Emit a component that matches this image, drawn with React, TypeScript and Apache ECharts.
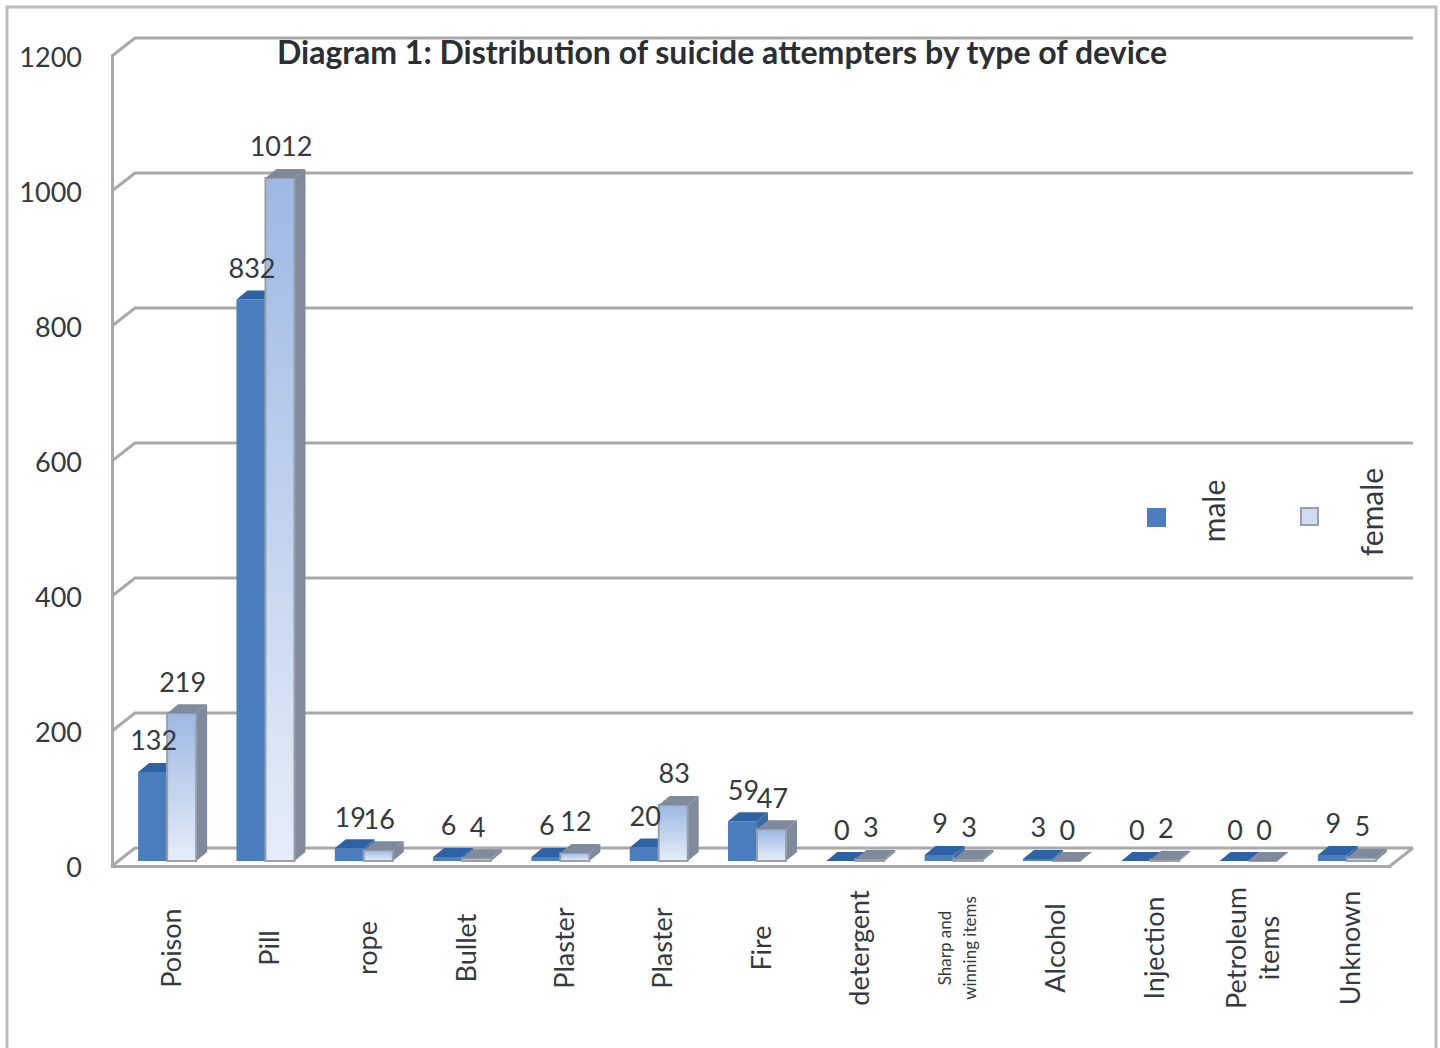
import React, { useEffect, useRef } from "react";
import * as echarts from "echarts";

const titleText = "Diagram 1: Distribution of suicide attempters by type of device";
const categories = ["Poison", "Pill", "rope", "Bullet", "Plaster", "Plaster", "Fire", "detergent", "Sharp and\nwinning items", "Alcohol", "Injection", "Petroleum\nitems", "Unknown"];
const male = [132, 832, 19, 6, 6, 20, 59, 0, 9, 3, 0, 0, 9];
const female = [219, 1012, 16, 4, 12, 83, 47, 3, 3, 0, 2, 0, 5];
const yTicks = [0, 200, 400, 600, 800, 1000, 1200];

const FONT = "Lato";
const TEXT = "#333a40";
const LINE = "#a9a9a9";
const WALL = { dx: 23, dy: -18 };
const BAR_PLANE = { dx: 6, dy: -5 };
const DEPTH = { dx: 11, dy: -9 };
const BAR_W = 29;

function poly(points: number[][], fill: any, stroke?: string, lineWidth = 0, z2 = 0) {
  return { type: "polygon", z2, shape: { points }, style: { fill, stroke: stroke ?? "none", lineWidth } };
}

function barShapes(api: any, side: "male" | "female") {
  const i = api.value(0);
  const v = api.value(1);
  const top = api.coord([i, v]);
  const bot = api.coord([i, 0]);
  const cx = top[0] + BAR_PLANE.dx;
  const y1 = top[1] + BAR_PLANE.dy;
  const y0 = bot[1] + BAR_PLANE.dy;
  const x0 = side === "male" ? cx - BAR_W : cx;
  const x1 = x0 + BAR_W;
  const d = DEPTH;
  const topFace = [[x0, y1], [x1, y1], [x1 + d.dx, y1 + d.dy], [x0 + d.dx, y1 + d.dy]];
  const sideFace = [[x1, y1], [x1 + d.dx, y1 + d.dy], [x1 + d.dx, y0 + d.dy], [x1, y0]];
  const front = [[x0, y1], [x1, y1], [x1, y0], [x0, y0]];
  if (side === "male") {
    return {
      type: "group",
      children: [
        poly(sideFace, "#3a6aa8"),
        poly(front, "#4a7ebf"),
        poly(topFace, "#2f62a5"),
      ],
    };
  }
  const grad = new echarts.graphic.LinearGradient(0, 0, 0, 1, [
    { offset: 0, color: "#9db8e4" },
    { offset: 1, color: "#e6edf8" },
  ]);
  return {
    type: "group",
    children: [
      poly(sideFace, "#7f8a9c"),
      poly(front, grad, "#9aa0a8", 2),
      poly(topFace, "#7f8a9c"),
    ],
  };
}

function wallShape(params: any, api: any) {
  const v = api.value(0);
  const a = api.coord([0, v]);
  const sys = params.coordSys;
  const left = sys.x;
  const right = sys.x + sys.width;
  const y = a[1];
  const children: any[] = [
    {
      type: "polyline",
      shape: { points: [[left, y], [left + WALL.dx, y + WALL.dy], [right + WALL.dx, y + WALL.dy]] },
      style: { stroke: LINE, lineWidth: 3, fill: "none" },
    },
  ];
  if (v === 0) {
    children.push({
      type: "line",
      shape: { x1: right, y1: y, x2: right + WALL.dx, y2: y + WALL.dy },
      style: { stroke: LINE, lineWidth: 3 },
    });
  }
  return { type: "group", children };
}

function labelShape(api: any, side: "male" | "female") {
  const i = api.value(0);
  const v = api.value(1);
  const p = api.coord([i, v]);
  const x = p[0] + BAR_PLANE.dx + (side === "male" ? -BAR_W / 2 : BAR_W / 2) + 1;
  const y = p[1] + BAR_PLANE.dy + DEPTH.dy - 23;
  return {
    type: "text",
    x,
    y,
    style: { text: String(v), fill: TEXT, font: `27px ${FONT}`, align: "center", verticalAlign: "middle" },
  };
}

const toPairs = (arr: number[]) => arr.map((v, i) => [i, v]);

export default function App() {
  const ref = useRef<HTMLDivElement>(null);
  useEffect(() => {
    const chart = echarts.init(ref.current!, undefined, { renderer: "svg" });
    chart.setOption({
      animation: false,
      backgroundColor: "#ffffff",
      title: {
        text: titleText,
        left: 272,
        top: 30,
        textStyle: { fontFamily: FONT, fontWeight: "bold", fontSize: 32, color: "#2a2f33" },
      },
      grid: { left: 112, right: 50, top: 56, bottom: 182 },
      xAxis: {
        type: "category",
        data: categories,
        axisTick: { show: false },
        axisLine: { show: true, lineStyle: { color: LINE, width: 3 } },
        axisLabel: {
          interval: 0,
          rotate: 90,
          margin: 82,
          align: "center",
          verticalAlign: "middle",
          padding: [18, 0, 0, 0],
          fontFamily: FONT,
          fontSize: 27,
          lineHeight: 33,
          color: TEXT,
          hideOverlap: false,
          formatter: (v: string) => (v.startsWith("Sharp") ? `{s|${v}}` : v),
          rich: { s: { fontSize: 17, lineHeight: 25, fontFamily: FONT, color: TEXT } },
        },
      },
      yAxis: {
        type: "value",
        min: 0,
        max: 1200,
        interval: 200,
        axisTick: { show: false },
        splitLine: { show: false },
        axisLine: { show: true, lineStyle: { color: LINE, width: 3 } },
        axisLabel: { margin: 30, fontFamily: FONT, fontSize: 27, color: TEXT, formatter: (v: number) => String(v) },
      },
      series: [
        {
          type: "custom",
          name: "wall",
          z: 1,
          silent: true,
          data: yTicks.map((v) => [v]),
          encode: { y: 0 },
          renderItem: wallShape,
        },
        {
          type: "custom",
          name: "male",
          z: 3,
          data: toPairs(male),
          encode: { x: 0, y: 1 },
          renderItem: (_: any, api: any) => barShapes(api, "male"),
        },
        {
          type: "custom",
          name: "female",
          z: 4,
          data: toPairs(female),
          encode: { x: 0, y: 1 },
          renderItem: (_: any, api: any) => barShapes(api, "female"),
        },
        {
          type: "custom",
          name: "male labels",
          z: 5,
          data: toPairs(male),
          encode: { x: 0, y: 1 },
          renderItem: (_: any, api: any) => labelShape(api, "male"),
        },
        {
          type: "custom",
          name: "female labels",
          z: 5,
          data: toPairs(female),
          encode: { x: 0, y: 1 },
          renderItem: (_: any, api: any) => labelShape(api, "female"),
        },
      ],
      graphic: [
        { type: "rect", z: 0, shape: { x: 7, y: 7, width: 1429, height: 1060 }, style: { fill: "none", stroke: "#bdbdbd", lineWidth: 3 } },
        { type: "rect", shape: { x: 1147, y: 508, width: 19, height: 19 }, style: { fill: "#4a7ebf" } },
        { type: "rect", shape: { x: 1301, y: 508, width: 17, height: 17 }, style: { fill: "#cfdcf3", stroke: "#9aa0a8", lineWidth: 2 } },
        { type: "text", x: 1213, y: 511, rotation: Math.PI / 2, style: { text: "male", fill: TEXT, font: `30px ${FONT}`, align: "center", verticalAlign: "middle" } },
        { type: "text", x: 1371, y: 512, rotation: Math.PI / 2, style: { text: "female", fill: TEXT, font: `30px ${FONT}`, align: "center", verticalAlign: "middle" } },
      ],
    });
    return () => chart.dispose();
  }, []);
  return <div ref={ref} style={{ position: "absolute", left: 0, top: 0, width: 1440, height: 1048 }} />;
}
